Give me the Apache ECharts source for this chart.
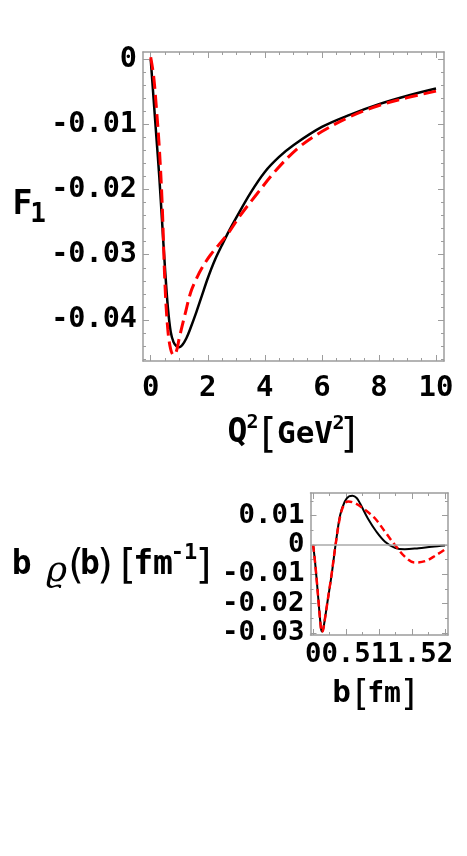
<!DOCTYPE html>
<html>
<head>
<meta charset="utf-8">
<script src="https://cdn.jsdelivr.net/npm/echarts@6/dist/echarts.min.js"></script>
<style>
  html, body { margin: 0; padding: 0; background: #fff; }
  #chart { width: 467px; height: 856px; }
</style>
</head>
<body>
<div id="chart"></div>
<script>
// top panel: F1 vs Q^2 (solid black, dashed red)
const q2Solid = [0, 0.1, 0.2, 0.3, 0.4, 0.5, 0.6, 0.7, 0.8, 0.9, 1.0, 1.1, 1.25, 1.4, 1.6, 1.8, 2.0, 2.25, 2.5, 2.75, 3.0, 3.5, 4.0, 4.5, 5, 6, 7, 8, 9, 10];
const f1Solid = [0, -0.006, -0.012, -0.018, -0.025, -0.032, -0.038, -0.0418, -0.0434, -0.044, -0.0442, -0.0439, -0.0428, -0.0412, -0.0388, -0.0362, -0.0336, -0.0308, -0.0285, -0.0263, -0.0243, -0.0205, -0.0173, -0.015, -0.0132, -0.0104, -0.0085, -0.0069, -0.0056, -0.0045];
const q2Dashed = [0, 0.1, 0.2, 0.3, 0.4, 0.5, 0.6, 0.7, 0.8, 0.9, 1.0, 1.2, 1.4, 1.6, 1.8, 2.1, 2.7, 3.1, 3.7, 4.4, 5.2, 6, 7, 8, 9, 10];
const f1Dashed = [0.0003, -0.0025, -0.0075, -0.0135, -0.022, -0.0345, -0.0415, -0.0445, -0.0454, -0.0448, -0.0428, -0.0392, -0.0358, -0.0337, -0.032, -0.03, -0.0268, -0.0242, -0.0208, -0.017, -0.0135, -0.0111, -0.0088, -0.0071, -0.0059, -0.0049];

// bottom panel: b*rho(b) vs b
const bSolid = [0, 0.03, 0.06, 0.09, 0.11, 0.13, 0.15, 0.18, 0.21, 0.28, 0.34, 0.41, 0.48, 0.54, 0.6, 0.66, 0.71, 0.83, 0.96, 1.09, 1.24, 1.39, 1.6, 1.8, 2.0];
const rhoSolid = [0, -0.006, -0.0135, -0.0215, -0.0265, -0.0295, -0.0289, -0.025, -0.0205, -0.0102, 0, 0.0102, 0.0148, 0.0165, 0.0168, 0.016, 0.0142, 0.009, 0.0045, 0.0011, -0.001, -0.0015, -0.0011, -0.0006, -0.0002];
const bDashed = [0, 0.03, 0.06, 0.09, 0.11, 0.13, 0.15, 0.18, 0.21, 0.28, 0.34, 0.41, 0.47, 0.53, 0.64, 0.79, 0.94, 1.09, 1.24, 1.39, 1.54, 1.7, 1.85, 2.0];
const rhoDashed = [0, -0.006, -0.0135, -0.0215, -0.0265, -0.0297, -0.0291, -0.025, -0.0205, -0.01, 0, 0.0098, 0.0138, 0.0148, 0.0142, 0.0119, 0.009, 0.0045, 0, -0.004, -0.006, -0.0055, -0.0037, -0.0015];

// tick labels
const q2Ticks = [0, 2, 4, 6, 8, 10];
const q2TickLabels = ['0', '2', '4', '6', '8', '10'];
const f1Ticks = [0, -0.01, -0.02, -0.03, -0.04];
const f1TickLabels = ['0', '-0.01', '-0.02', '-0.03', '-0.04'];
const bTicks = [0, 0.5, 1, 1.5, 2];
const bTickLabels = ['0', '0.5', '1', '1.5', '2'];
const rhoTicks = [0.01, 0, -0.01, -0.02, -0.03];
const rhoTickLabels = ['0.01', '0', '-0.01', '-0.02', '-0.03'];

const FRAME = '#9c9c9c';
const MONO = '"DejaVu Sans Mono", "Liberation Mono", monospace';

const zip = (xs, ys) => xs.map((x, i) => [x, ys[i]]);

const minorTicks = (from, to, step, major) => {
  const out = [];
  const n = Math.round((to - from) / step);
  for (let i = 0; i <= n; i++) {
    const v = +(from + i * step).toFixed(6);
    if (!major.some((m) => Math.abs(m - v) < 1e-9)) out.push(v);
  }
  return out;
};

// Mathematica-style frame: four sides, ticks pointing inward
const frameAxes = (dim, gridIndex, range, major, minor, labels, labelOpt) => {
  const sides = dim === 'x' ? ['bottom', 'top'] : ['left', 'right'];
  const axes = [];
  sides.forEach((position, s) => {
    [major, minor].forEach((ticks, k) => {
      axes.push({
        type: 'value',
        gridIndex,
        position,
        min: range[0],
        max: range[1],
        axisLine: { show: k === 0, onZero: false, lineStyle: { color: FRAME, width: 1.5 } },
        axisTick: {
          show: true,
          inside: true,
          length: k === 0 ? 6 : 3,
          customValues: ticks,
          lineStyle: { color: FRAME, width: 1 },
        },
        axisLabel:
          s === 0 && k === 0
            ? {
                show: true,
                customValues: major,
                formatter: (v) => labels[major.findIndex((m) => Math.abs(m - v) < 1e-9)] || '',
                fontFamily: MONO,
                fontWeight: 'bold',
                color: '#000',
                ...labelOpt,
              }
            : { show: false },
        splitLine: { show: false },
      });
    });
  });
  return axes;
};

const txt = (text, x, y, size, font) => ({
  type: 'text',
  x,
  y,
  silent: true,
  style: {
    text,
    fill: '#000',
    font: font || `bold ${size}px "DejaVu Sans Mono", monospace`,
    align: 'center',
    verticalAlign: 'middle',
  },
});
const thin = (size) => `normal ${size}px "DejaVu Sans", sans-serif`;

const chart = echarts.init(document.getElementById('chart'));

chart.setOption({
  animation: false,
  backgroundColor: '#fff',
  grid: [
    { left: 143, top: 52, width: 301, height: 309 },
    { left: 310.5, top: 493, width: 137.5, height: 142 },
  ],
  xAxis: [
    ...frameAxes('x', 0, [-0.27, 10.28], q2Ticks, minorTicks(0, 10, 0.5, q2Ticks), q2TickLabels, { fontSize: 29, margin: 13 }),
    ...frameAxes('x', 1, [-0.04, 2.045], bTicks, minorTicks(0, 2, 0.25, bTicks), bTickLabels, { fontSize: 27.4, margin: 6 }),
  ],
  yAxis: [
    ...frameAxes('y', 0, [-0.0463, 0.0011], f1Ticks, minorTicks(-0.046, 0, 0.002, f1Ticks), f1TickLabels, { fontSize: 28.5, margin: 6 }),
    ...frameAxes('y', 1, [-0.0307, 0.0177], rhoTicks, minorTicks(-0.03, 0.015, 0.005, rhoTicks), rhoTickLabels, { fontSize: 27.4, margin: 6 }),
  ],
  series: [
    {
      type: 'line',
      xAxisIndex: 0,
      yAxisIndex: 0,
      data: zip(q2Solid, f1Solid),
      symbol: 'none',
      smooth: 0.35,
      lineStyle: { color: '#000', width: 2.5 },
    },
    {
      type: 'line',
      xAxisIndex: 0,
      yAxisIndex: 0,
      data: zip(q2Dashed, f1Dashed),
      symbol: 'none',
      smooth: 0.35,
      lineStyle: { color: '#ff0000', width: 3, type: [13, 6] },
    },
    {
      type: 'line',
      xAxisIndex: 4,
      yAxisIndex: 4,
      data: zip(bSolid, rhoSolid),
      symbol: 'none',
      smooth: 0.35,
      lineStyle: { color: '#000', width: 2 },
      markLine: {
        silent: true,
        symbol: 'none',
        label: { show: false },
        lineStyle: { color: '#aaaaaa', width: 1.5, type: 'solid' },
        data: [{ yAxis: 0 }],
      },
    },
    {
      type: 'line',
      xAxisIndex: 4,
      yAxisIndex: 4,
      data: zip(bDashed, rhoDashed),
      symbol: 'none',
      smooth: 0.35,
      lineStyle: { color: '#ff0000', width: 2.5, type: [7, 4] },
    },
  ],
  graphic: [
    // F_1
    txt('F', 22.5, 205, 33),
    txt('1', 38, 215, 26),
    // Q^2 [GeV^2]
    txt('Q', 237.5, 433, 33),
    txt('2', 252.5, 423, 20),
    txt('[', 268.5, 437, 0, thin(40)),
    txt('GeV', 305, 435, 31),
    txt('2', 338.5, 424, 20),
    txt(']', 348.5, 437, 0, thin(40)),
    // b rho(b) [fm^-1]
    txt('b', 21.7, 565, 33),
    txt('ϱ', 56.5, 572, 0, 'italic 36px "DejaVu Serif", serif'),
    txt('(', 76, 568, 0, thin(40)),
    txt('b', 90, 565, 33),
    txt(')', 105, 568, 0, thin(40)),
    txt('[', 128, 568, 0, thin(40)),
    txt('fm', 153, 565, 33),
    txt('-1', 184, 553, 22),
    txt(']', 203.5, 568, 0, thin(40)),
    // b [fm]
    txt('b', 341.5, 694, 31),
    txt('[', 361.5, 696, 0, thin(36)),
    txt('fm', 384, 695, 28),
    txt(']', 408.5, 696, 0, thin(36)),
  ],
});
</script>
</body>
</html>
